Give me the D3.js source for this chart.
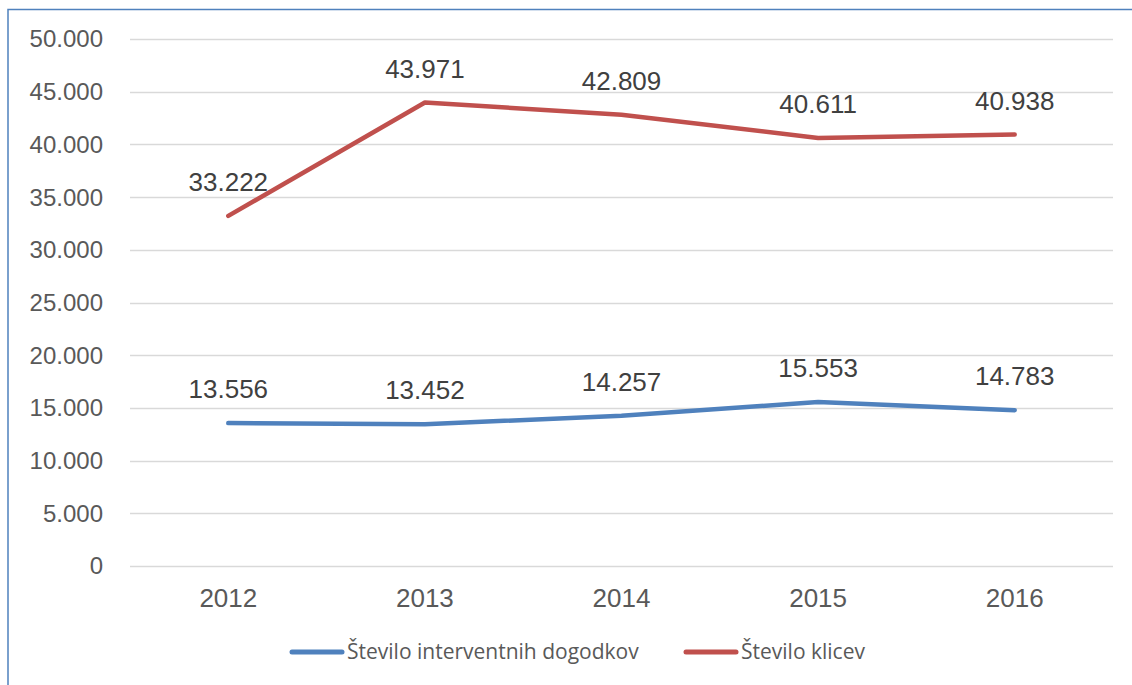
<!DOCTYPE html>
<html>
<head>
<meta charset="utf-8">
<script src="https://cdn.jsdelivr.net/npm/d3@7"></script>
<style>
  body { margin: 0; background: #fff; }
  svg { display: block; font-family: "Liberation Sans", Arial, sans-serif; }
</style>
</head>
<body>
<svg width="1132" height="685"></svg>
<script>
const years = ['2012', '2013', '2014', '2015', '2016'];
const dogodki = [13556, 13452, 14257, 15553, 14783];
const klici = [33222, 43971, 42809, 40611, 40938];
const yTicks = [0, 5000, 10000, 15000, 20000, 25000, 30000, 35000, 40000, 45000, 50000];

const series = [
  { name: 'Število interventnih dogodkov', values: dogodki, color: '#4f81bd' },
  { name: 'Število klicev', values: klici, color: '#c0504d' }
];

const svg = d3.select('svg');

// okvir
svg.append('path')
  .attr('d', 'M8,685 L8,9.5 L1132,9.5')
  .attr('fill', 'none')
  .attr('stroke', '#4f81bd')
  .attr('stroke-width', 1.5);

const x = d3.scaleBand().domain(years).range([130, 1113]);
const y = d3.scaleLinear().domain([0, 50000]).range([566, 39]);

const fmt = v => d3.format(',')(v).replace(/,/g, '.');

// mreža
svg.append('g')
  .selectAll('line')
  .data(yTicks)
  .join('line')
  .attr('x1', 130).attr('x2', 1113)
  .attr('y1', d => Math.round(y(d)) + 0.5)
  .attr('y2', d => Math.round(y(d)) + 0.5)
  .attr('stroke', '#d9d9d9')
  .attr('stroke-width', 1.5);

svg.append('g')
  .selectAll('text')
  .data(yTicks)
  .join('text')
  .attr('x', 103)
  .attr('y', d => y(d))
  .attr('dy', '0.35em')
  .attr('text-anchor', 'end')
  .attr('fill', '#595959')
  .attr('font-size', 24)
  .text(fmt);

svg.append('g')
  .selectAll('text')
  .data(years)
  .join('text')
  .attr('x', d => x(d) + x.bandwidth() / 2)
  .attr('y', 607)
  .attr('text-anchor', 'middle')
  .attr('fill', '#595959')
  .attr('font-size', 26)
  .text(d => d);

// črte
const line = d3.line()
  .x((d, i) => x(years[i]) + x.bandwidth() / 2)
  .y(d => y(d));

series.forEach(s => {
  svg.append('path')
    .datum(s.values)
    .attr('d', line)
    .attr('fill', 'none')
    .attr('stroke', s.color)
    .attr('stroke-width', 4.5)
    .attr('stroke-linejoin', 'round')
    .attr('stroke-linecap', 'round');

  svg.append('g')
    .selectAll('text')
    .data(s.values)
    .join('text')
    .attr('x', (d, i) => x(years[i]) + x.bandwidth() / 2)
    .attr('y', d => y(d) - 25)
    .attr('text-anchor', 'middle')
    .attr('fill', '#404040')
    .attr('font-size', 26)
    .text(fmt);
});

// legenda
const legendPos = [289, 683];
series.forEach((s, i) => {
  const g = svg.append('g').attr('transform', `translate(${legendPos[i]},652)`);
  g.append('line')
    .attr('x1', 3).attr('x2', 53)
    .attr('stroke', s.color)
    .attr('stroke-width', 5)
    .attr('stroke-linecap', 'round');
  g.append('text')
    .attr('x', 58)
    .attr('dy', '0.35em')
    .attr('fill', '#595959')
    .attr('font-size', 21)
    .attr('font-family', '"Open Sans", "Noto Sans", sans-serif')
    .text(s.name);
});
</script>
</body>
</html>
